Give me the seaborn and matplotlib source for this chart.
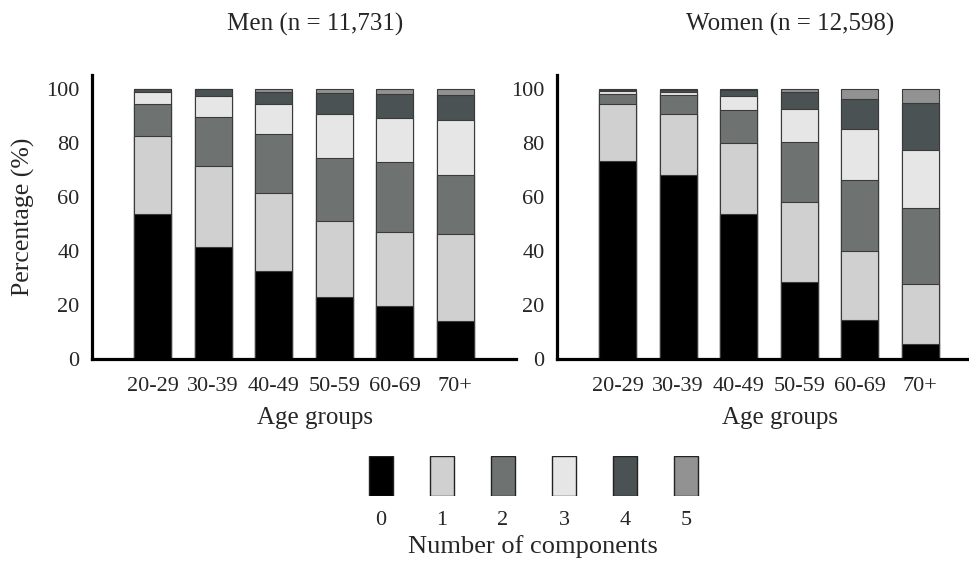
import numpy as np
import pandas as pd
import matplotlib
matplotlib.use("Agg")
import matplotlib.pyplot as plt
import seaborn as sns

# %%
age_groups = ["20-29", "30-39", "40-49", "50-59", "60-69", "70+"]
components = ["0", "1", "2", "3", "4", "5"]

# percentage of people with 0..5 components, per age group
men_pct = [
    [53.6, 29.1, 11.7, 4.6, 0.9, 0.1],
    [41.3, 30.3, 18.1, 7.8, 2.4, 0.1],
    [32.6, 28.8, 22.1, 10.9, 4.6, 1.0],
    [23.0, 28.0, 23.4, 16.5, 7.5, 1.6],
    [19.6, 27.6, 25.9, 16.3, 8.6, 2.0],
    [14.0, 32.4, 21.9, 20.1, 9.3, 2.3],
]
women_pct = [
    [73.2, 21.4, 3.7, 1.0, 0.3, 0.4],
    [68.3, 22.6, 6.8, 1.3, 0.6, 0.4],
    [53.6, 26.5, 12.0, 5.4, 2.1, 0.4],
    [28.4, 29.9, 22.1, 12.1, 6.3, 1.2],
    [14.4, 25.6, 26.4, 18.7, 11.2, 3.7],
    [5.5, 22.3, 28.3, 21.5, 17.1, 5.3],
]

colors = ["#000000", "#d0d0d0", "#6e7371", "#e6e6e6", "#4a5253", "#929292"]

# %%
sns.set_style("white")
plt.rcParams["font.family"] = ["Liberation Serif", "DejaVu Serif"]

fig = plt.figure(figsize=(9.7, 5.61), dpi=100)
ax_men = fig.add_axes([0.0948, 0.3601, 0.4371, 0.5062])
ax_women = fig.add_axes([0.5742, 0.3601, 0.4258, 0.5062])
ax_leg = fig.add_axes([0.3613, 0.1164, 0.3773, 0.0713])


def stacked(ax, pct, xmax):
    df = pd.DataFrame(pct, columns=components)
    df.insert(0, "age", age_groups)
    cum = df[components].cumsum(axis=1)
    # draw from the top segment down so each layer covers the one above
    for i in range(len(components) - 1, -1, -1):
        sns.barplot(x=df["age"], y=cum[components[i]], color=colors[i],
                    saturation=1, width=0.61, edgecolor="#3a3a3a",
                    linewidth=0.8, errorbar=None, ax=ax)
    ax.set_xlim(-1, xmax)
    ax.set_ylim(0, 105.2)
    ax.set_yticks([0, 20, 40, 60, 80, 100])
    ax.set_xlabel("")
    ax.set_ylabel("")
    sns.despine(ax=ax)
    for s in ["left", "bottom"]:
        ax.spines[s].set_linewidth(2.3)
        ax.spines[s].set_color("black")
    ax.tick_params(axis="y", direction="out", length=5, width=1,
                   labelsize=16, pad=4, color="black")
    ax.tick_params(axis="x", direction="out", length=3, width=0.8,
                   labelsize=16, pad=10, color="#555555")


stacked(ax_men, men_pct, 6)
stacked(ax_women, women_pct, 5.82)

ax_men.set_ylabel("Percentage (%)", fontsize=18.5, labelpad=8)

fig.text(315 / 970, 1 - 24 / 561, "Men (n = 11,731)", ha="center", va="center", fontsize=18)
fig.text(790 / 970, 1 - 24 / 561, "Women (n = 12,598)", ha="center", va="center", fontsize=18)
fig.text(315 / 970, 1 - 418 / 561, "Age groups", ha="center", va="center", fontsize=18)
fig.text(780 / 970, 1 - 418 / 561, "Age groups", ha="center", va="center", fontsize=18)

# legend drawn as a row of small bars
sns.barplot(x=components, y=[1] * 6, hue=components, palette=colors, saturation=1,
            width=0.39, edgecolor="#222222", linewidth=1, legend=False, ax=ax_leg)
ax_leg.set_ylim(0, 1)
ax_leg.set_xlim(-0.5, 5.5)
ax_leg.set_yticks([])
ax_leg.tick_params(axis="x", length=0, labelsize=16, pad=11)
for s in ax_leg.spines.values():
    s.set_visible(False)
ax_leg.set_xlabel("")
fig.text(533 / 970, 1 - 547 / 561, "Number of components", ha="center", va="center", fontsize=19)

fig.savefig("out.png", dpi=100)
